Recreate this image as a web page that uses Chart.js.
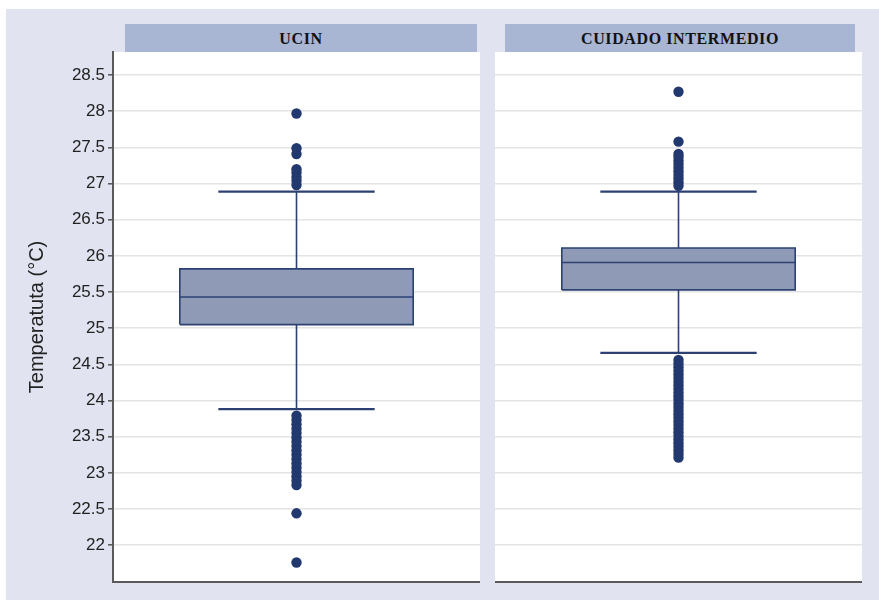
<!DOCTYPE html>
<html>
<head>
<meta charset="utf-8">
<script src="https://cdn.jsdelivr.net/npm/chart.js@4/dist/chart.umd.min.js"></script>
<style>
  html, body { margin: 0; padding: 0; background: #ffffff; width: 879px; height: 600px; overflow: hidden; }
  #bg { position: absolute; left: 6px; top: 9px; width: 873px; height: 591px; background: #e1e4f0; }
  .hdr { position: absolute; top: 24px; height: 28px; background: #a8b5d3; color: #111;
         font-family: "Liberation Serif", "DejaVu Serif", serif; font-weight: bold; font-size: 16px;
         line-height: 29px; text-align: center; letter-spacing: 0.6px; }
  .wrap { position: absolute; top: 0; height: 600px; }
</style>
</head>
<body>
<div id="bg"></div>
<div class="hdr" style="left:125px;width:352px;">UCIN</div>
<div class="hdr" style="left:505px;width:350px;">CUIDADO INTERMEDIO</div>
<div class="wrap" style="left:0;width:480px;"><canvas id="c1" width="480" height="600"></canvas></div>
<div class="wrap" style="left:495px;width:367px;"><canvas id="c2" width="367" height="600"></canvas></div>
<script>
// ---- data ----
const panels = ['UCIN', 'CUIDADO INTERMEDIO'];
const yTickValues = [22, 22.5, 23, 23.5, 24, 24.5, 25, 25.5, 26, 26.5, 27, 27.5, 28, 28.5];
const yTitle = 'Temperatuta (°C)';

// box statistics: [lowerWhisker, q1, median, q3, upperWhisker]
const ucinStats = [23.88, 25.05, 25.43, 25.82, 26.89];
const ciStats   = [24.66, 25.53, 25.91, 26.11, 26.89];

const ucinOutliers = [27.97, 27.49, 27.41, 27.20, 27.15, 27.09, 27.04, 26.98,
  23.79, 23.73, 23.67, 23.61, 23.55, 23.49, 23.43, 23.37, 23.31, 23.25, 23.19,
  23.13, 23.07, 23.01, 22.95, 22.89, 22.83, 22.44, 21.76];
const ciOutliers = [28.27, 27.58, 27.41, 27.37, 27.32, 27.27, 27.22, 27.17, 27.12,
  27.07, 27.02, 26.97,
  24.56, 24.51, 24.46, 24.41, 24.36, 24.31, 24.26, 24.21, 24.16, 24.11, 24.06,
  24.01, 23.96, 23.91, 23.86, 23.81, 23.76, 23.71, 23.66, 23.61, 23.56, 23.51,
  23.46, 23.41, 23.36, 23.31, 23.26, 23.21];

// ---- styles ----
const NAVY = '#2c4172';
const DOT = '#22396f';
const BOX_FILL = '#8f9bb6';
const GRID = '#e4e4e6';
const BOX_HALF = 0.318;   // half box width in panel fraction
const CAP_HALF = 0.213;   // half cap width in panel fraction
const Y_MIN = 21.49, Y_MAX = 28.82;
const FONT = '"Liberation Sans", Arial, sans-serif';

function lineDs(points, width, extra) {
  return Object.assign({ type: 'line', data: points, borderColor: NAVY, borderWidth: width,
           pointRadius: 0, fill: false, tension: 0 }, extra || {});
}

function buildDatasets(stats, outliers) {
  const [lo, q1, med, q3, hi] = stats;
  const c = 0.5, L = c - BOX_HALF, R = c + BOX_HALF;
  return [
    { type: 'line', showLine: false,
      data: outliers.map(v => ({ x: c, y: v })),
      pointRadius: 5.2, pointBackgroundColor: DOT, pointBorderColor: DOT, pointBorderWidth: 0 },
    lineDs([{ x: L, y: med }, { x: R, y: med }], 1.5),
    lineDs([{ x: c - CAP_HALF, y: hi }, { x: c + CAP_HALF, y: hi }], 2.2),
    lineDs([{ x: c - CAP_HALF, y: lo }, { x: c + CAP_HALF, y: lo }], 2.2),
    lineDs([{ x: c, y: q3 }, { x: c, y: hi }], 1.6),
    lineDs([{ x: c, y: lo }, { x: c, y: q1 }], 1.6),
    // box outline
    lineDs([{ x: L, y: q1 }, { x: L, y: q3 }, { x: R, y: q3 }, { x: R, y: q1 }, { x: L, y: q1 }], 1.6),
    // box fill: top edge filled down to bottom edge
    lineDs([{ x: L, y: q3 }, { x: R, y: q3 }], 0, { fill: '+1', backgroundColor: BOX_FILL }),
    lineDs([{ x: L, y: q1 }, { x: R, y: q1 }], 0)
  ];
}

const bgPlugin = {
  id: 'panelBg',
  beforeDraw(chart) {
    const { ctx, chartArea: a } = chart;
    ctx.save();
    ctx.fillStyle = '#ffffff';
    ctx.fillRect(a.left, a.top, a.right - a.left, a.bottom - a.top);
    ctx.restore();
  }
};

function makeChart(id, stats, outliers, showAxis) {
  return new Chart(document.getElementById(id), {
    type: 'line',
    data: { datasets: buildDatasets(stats, outliers) },
    plugins: [bgPlugin],
    options: {
      responsive: false,
      animation: false,
      events: [],
      layout: { autoPadding: false, padding: { top: 52, bottom: 18, left: 0, right: 0 } },
      plugins: { legend: { display: false }, tooltip: { enabled: false } },
      scales: {
        x: { type: 'linear', display: true, min: 0, max: 1,
             ticks: { display: false }, grid: { display: false, drawTicks: false },
             border: { display: true, color: '#5a5a5a', width: 2 },
             afterFit: s => { s.height = 0; } },
        y: { type: 'linear', min: Y_MIN, max: Y_MAX,
             afterBuildTicks: s => { s.ticks = yTickValues.map(v => ({ value: v })); },
             afterFit: s => { s.width = showAxis ? 113 : 0; },
             grid: { color: GRID, lineWidth: 1.6, drawTicks: showAxis, tickLength: 5, tickColor: '#555', tickWidth: 1.5 },
             border: { display: showAxis, color: '#5a5a5a', width: 2 },
             ticks: { display: showAxis, padding: 3, color: '#222',
                      font: { family: FONT, size: 17 },
                      callback: v => String(v) },
             title: { display: showAxis, text: yTitle, color: '#222',
                      font: { family: FONT, size: 20 },
                      padding: { top: 25, bottom: 0 } } }
      }
    }
  });
}

makeChart('c1', ucinStats, ucinOutliers, true);
makeChart('c2', ciStats, ciOutliers, false);
</script>
</body>
</html>
